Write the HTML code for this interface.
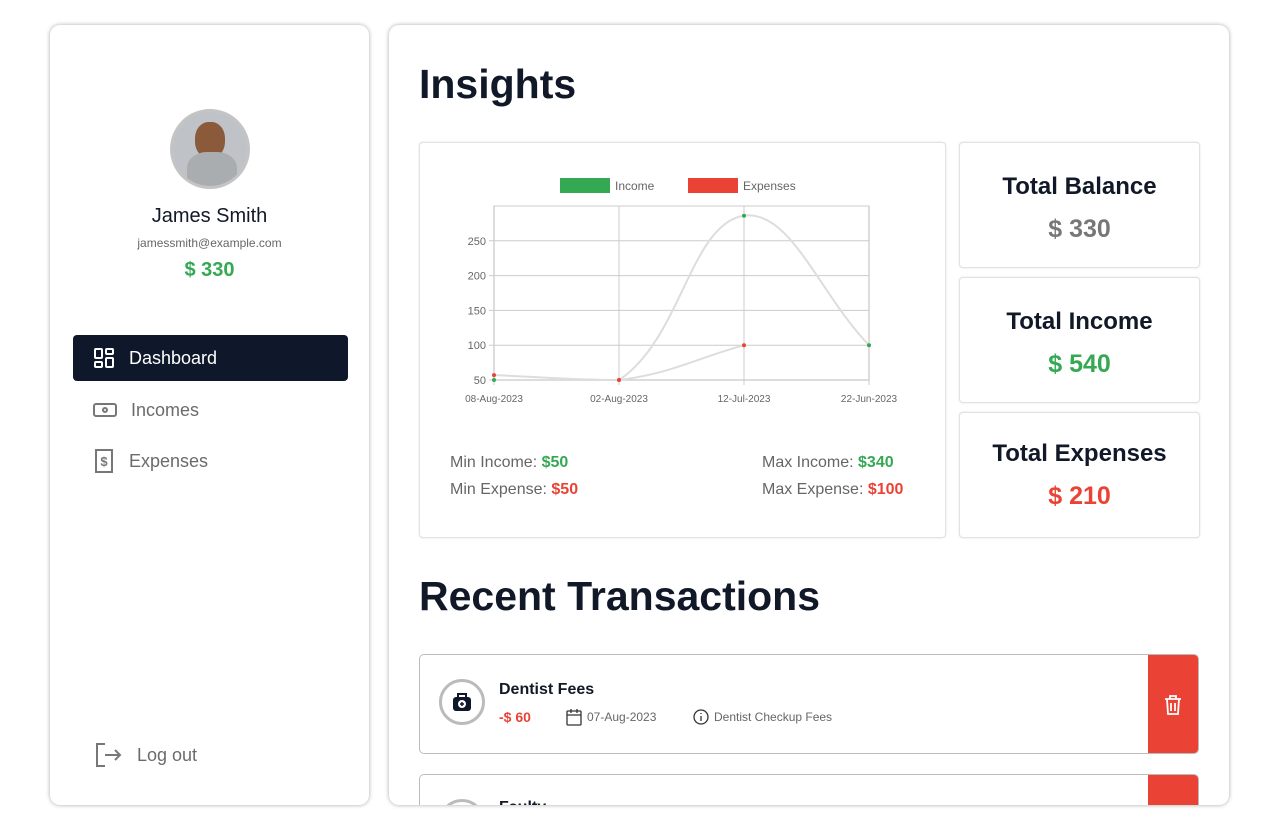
<!DOCTYPE html>
<html><head><meta charset="utf-8"><style>
*{box-sizing:border-box;margin:0;padding:0}
html,body{width:1280px;height:832px;overflow:hidden}
body{background:#fff;font-family:"Liberation Sans",sans-serif;position:relative;color:#111827}
.card{position:absolute;background:#fff;border-radius:10px;box-shadow:0 0 4px rgba(0,0,0,.35)}
.abs{position:absolute}
.sub{position:absolute;border:1px solid #e2e2e2;border-radius:4px;box-shadow:0 0 2px rgba(0,0,0,.12);background:#fff}
.nav{position:absolute;left:73px;width:275px;height:46px;border-radius:4px;font-size:18px;color:#6b6b6b;display:flex;align-items:center;padding-left:20px}
.nav svg{margin-right:14px}
.stat{text-align:center}
.stat h3{font-size:24px;font-weight:bold;color:#111827;margin-top:30px}
.stat div{font-size:25px;font-weight:bold;margin-top:14px}
</style></head><body>
<div class="card" style="left:50px;top:25px;width:319px;height:780px">
</div>
<div class="abs" style="left:170px;top:109px;width:80px;height:80px;border-radius:50%;border:3px solid #c4c4c4;background:#bfc3c7;overflow:hidden">
 <div style="position:absolute;left:22px;top:10px;width:30px;height:36px;border-radius:45%;background:#8a5a3a"></div>
 <div style="position:absolute;left:14px;top:40px;width:50px;height:40px;border-radius:40% 40% 0 0;background:#a9adb0"></div>
</div>
<div class="abs" style="left:50px;width:319px;top:205px;text-align:center;font-size:20px">James Smith</div>
<div class="abs" style="left:50px;width:319px;top:236px;text-align:center;font-size:12px;color:#666">jamessmith@example.com</div>
<div class="abs" style="left:50px;width:319px;top:259px;text-align:center;font-size:20px;font-weight:bold;color:#34a853">$ 330</div>
<div class="nav" style="top:335px;background:#0f172a;color:#fff">
<svg width="22" height="22" viewBox="0 0 22 22" fill="none" stroke="#fff" stroke-width="2"><rect x="2" y="2" width="7" height="9" rx="1"/><rect x="13" y="2" width="7" height="5" rx="1"/><rect x="2" y="15" width="7" height="5" rx="1"/><rect x="13" y="11" width="7" height="9" rx="1"/></svg>Dashboard</div>
<div class="nav" style="top:387px">
<svg width="24" height="22" viewBox="0 0 24 22" fill="none" stroke="#777" stroke-width="2"><rect x="1" y="5" width="22" height="12" rx="2"/><circle cx="12" cy="11" r="2"/></svg>Incomes</div>
<div class="nav" style="top:438px">
<svg width="22" height="24" viewBox="0 0 22 24" fill="none" stroke="#777" stroke-width="2"><rect x="3" y="1" width="16" height="22"/><text x="11" y="17" font-size="13" text-anchor="middle" fill="#777" stroke="none" font-weight="bold">$</text></svg>Expenses</div>
<div class="nav" style="top:732px;left:93px;padding-left:0">
<svg width="30" height="26" viewBox="0 0 30 26" fill="none" stroke="#777" stroke-width="2"><path d="M12 2H4v22h8M12 13h15M22 8l5 5-5 5"/></svg>Log out</div>

<div class="card" style="left:389px;top:25px;width:840px;height:780px;overflow:hidden">
<div class="abs" style="left:30px;top:36px;font-size:41px;font-weight:bold">Insights</div>
<div class="sub" style="left:30px;top:117px;width:527px;height:396px">
<svg id="chart" width="527" height="300" style="position:absolute;left:0;top:0"></svg>
<div class="abs" style="left:30px;top:311px;font-size:16px;color:#666">Min Income: <b style="color:#34a853">$50</b></div>
<div class="abs" style="left:30px;top:338px;font-size:16px;color:#666">Min Expense: <b style="color:#ea4335">$50</b></div>
<div class="abs" style="left:342px;top:311px;font-size:16px;color:#666">Max Income: <b style="color:#34a853">$340</b></div>
<div class="abs" style="left:342px;top:338px;font-size:16px;color:#666">Max Expense: <b style="color:#ea4335">$100</b></div>
</div>
<div class="sub stat" style="left:570px;top:117px;width:241px;height:126px"><h3>Total Balance</h3><div style="color:#777">$ 330</div></div>
<div class="sub stat" style="left:570px;top:252px;width:241px;height:126px"><h3>Total Income</h3><div style="color:#34a853">$ 540</div></div>
<div class="sub stat" style="left:570px;top:387px;width:241px;height:126px"><h3 style="margin-top:27px">Total Expenses</h3><div style="color:#ea4335">$ 210</div></div>
<div class="abs" style="left:30px;top:548px;font-size:41px;font-weight:bold">Recent Transactions</div>
<div class="abs" style="left:30px;top:629px;width:780px;height:100px;border:1px solid #bbb;border-radius:5px;overflow:hidden">
 <div class="abs" style="left:19px;top:24px;width:46px;height:46px;border-radius:50%;border:3px solid #bbb;display:flex;align-items:center;justify-content:center">
  <svg width="22" height="22" viewBox="0 0 22 22"><rect x="2" y="6" width="18" height="14" rx="3" fill="#0f172a"/><path d="M7 6V3h8v3" stroke="#0f172a" stroke-width="2" fill="none"/><circle cx="11" cy="13" r="4" fill="#fff"/><path d="M11 11v4M9 13h4" stroke="#0f172a" stroke-width="1.5"/></svg></div>
 <div class="abs" style="left:79px;top:26px;font-size:16px;font-weight:bold">Dentist Fees</div>
 <div class="abs" style="left:79px;top:54px;font-size:14px;font-weight:bold;color:#ea4335">-$ 60</div>
 <div class="abs" style="left:146px;top:53px;font-size:12px;color:#666;display:flex;align-items:center"><svg width="16" height="18" viewBox="0 0 16 18" fill="none" stroke="#333" stroke-width="1.3" style="margin-right:5px"><rect x="1" y="3" width="14" height="14" rx="1"/><path d="M1 7h14M5 1v4M11 1v4"/></svg>07-Aug-2023</div>
 <div class="abs" style="left:273px;top:54px;font-size:12px;color:#666;display:flex;align-items:center"><svg width="16" height="16" viewBox="0 0 16 16" fill="none" stroke="#333" stroke-width="1.3" style="margin-right:5px"><circle cx="8" cy="8" r="7"/><path d="M8 7v5M8 4v1"/></svg>Dentist Checkup Fees</div>
 <div class="abs" style="right:0;top:0;width:50px;height:100px;background:#ea4335;display:flex;align-items:center;justify-content:center">
  <svg width="20" height="22" viewBox="0 0 20 22" fill="none" stroke="#fff" stroke-width="1.8"><path d="M2 5h16M7 5V2h6v3M4 5l1 15h10l1-15M8 9v8M12 9v8"/></svg></div>
</div>
<div class="abs" style="left:30px;top:749px;width:780px;height:31px;border:1px solid #bbb;border-bottom:none;border-radius:5px 5px 0 0;overflow:hidden">
 <div class="abs" style="left:19px;top:24px;width:46px;height:46px;border-radius:50%;border:3px solid #bbb"></div>
 <div class="abs" style="left:79px;top:24px;font-size:16px;font-weight:bold">Faulty</div>
 <div class="abs" style="right:0;top:0;width:50px;height:31px;background:#ea4335"></div>
</div>
</div>
<script>
const categories=["08-Aug-2023","02-Aug-2023","12-Jul-2023","22-Jun-2023"];
const incomeValues=[50,50,286,100];
const expenseValues=[57,50,100];
const yTicks=[50,100,150,200,250];
const svg=document.getElementById('chart');
const NS='http://www.w3.org/2000/svg';
const L=74,R=449,T=63,B=237,yMin=50,yMax=300;
const x=i=>L+i*(R-L)/(categories.length-1);
const y=v=>B-(v-yMin)/(yMax-yMin)*(B-T);
function el(t,a,txt){const e=document.createElementNS(NS,t);for(const k in a)e.setAttribute(k,a[k]);if(txt!=null)e.textContent=txt;svg.appendChild(e);return e;}
let g=el('rect',{x:140,y:35,width:50,height:15,fill:'#34a853'});


g=el('text',{x:195,y:47,'font-size':12,fill:'#666'},'Income');


g=el('rect',{x:268,y:35,width:50,height:15,fill:'#ea4335'});


g=el('text',{x:323,y:47,'font-size':12,fill:'#666'},'Expenses');


el('rect',{x:L,y:T,width:R-L,height:B-T,fill:'none',stroke:'#ddd','stroke-width':1.5});
yTicks.forEach(v=>{const l=el('line',{x1:L-5,x2:R,y1:y(v),y2:y(v),stroke:'#ccc'});


const t=el('text',{x:L-8,y:y(v)+4,'font-size':11,fill:'#666','text-anchor':'end'},v);

});
categories.forEach((c,i)=>{const l=el('line',{x1:x(i),x2:x(i),y1:T,y2:B+5,stroke:'#ccc'});


const t=el('text',{x:x(i),y:B+22,'font-size':10,fill:'#666','text-anchor':'middle'},c);

});
const cap=(p)=>[Math.max(L,Math.min(R,p[0])),Math.max(T,Math.min(B,p[1]))];
function path(vals){const p=vals.map((v,i)=>[x(i),y(v)]);const t=0.4;const cps=p.map((pt,i)=>{const pr=p[i-1]||pt,nx=p[i+1]||pt;const d01=Math.hypot(pt[0]-pr[0],pt[1]-pr[1]),d12=Math.hypot(nx[0]-pt[0],nx[1]-pt[1]);let fa=d01/(d01+d12)||0,fb=d12/(d01+d12)||0;fa*=t;fb*=t;return{p:cap([pt[0]-fa*(nx[0]-pr[0]),pt[1]-fa*(nx[1]-pr[1])]),n:cap([pt[0]+fb*(nx[0]-pr[0]),pt[1]+fb*(nx[1]-pr[1])])};});
let d='M'+p[0].join(',');for(let i=1;i<p.length;i++){d+=' C'+cps[i-1].n.join(',')+' '+cps[i].p.join(',')+' '+p[i].join(',');}return d;}
[[incomeValues,'#34a853','income'],[expenseValues,'#ea4335','expenses']].forEach(([vals,col,n])=>{
const l=el('path',{d:path(vals),fill:'none',stroke:'#ddd','stroke-width':2});


vals.forEach((v,i)=>{const c=el('circle',{cx:x(i),cy:y(v),r:2,fill:col});

});});
</script>
</body></html>
